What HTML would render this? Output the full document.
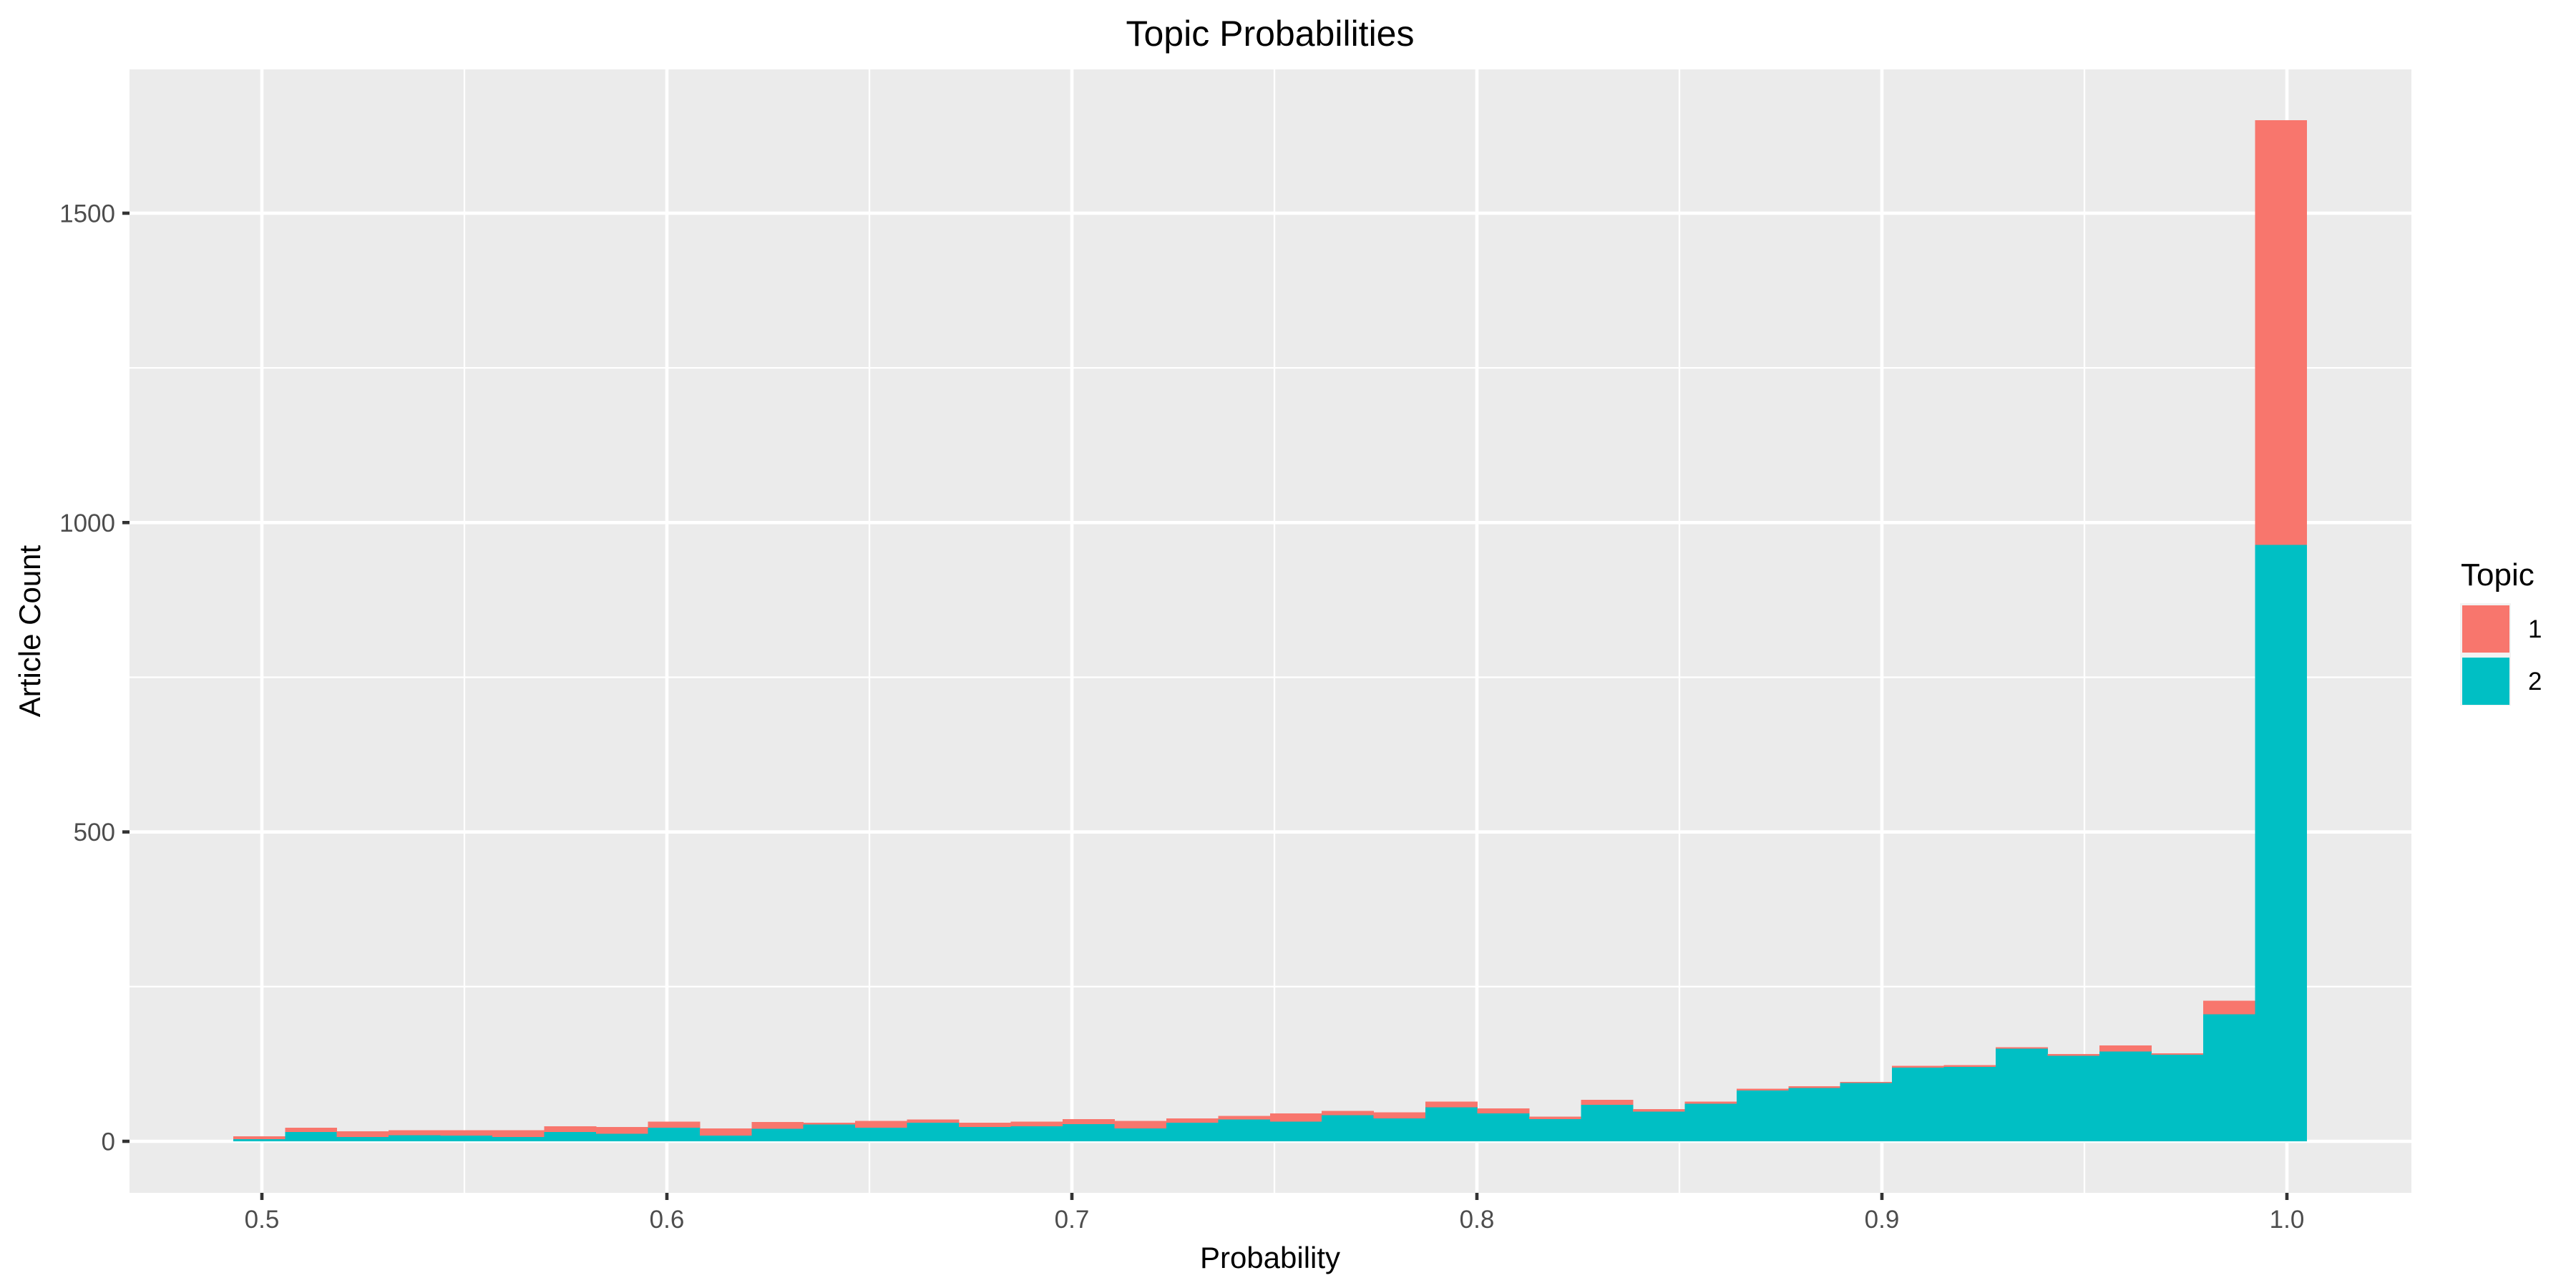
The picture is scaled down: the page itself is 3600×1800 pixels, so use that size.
<!DOCTYPE html>
<html><head><meta charset="utf-8"><style>
html,body{margin:0;padding:0;background:#fff;}
svg{display:block;font-family:"Liberation Sans",Arial,sans-serif;}
rect{shape-rendering:crispEdges;}
</style></head><body>
<svg id="chart" width="3600" height="1800" viewBox="0 0 3600 1800" xmlns="http://www.w3.org/2000/svg"></svg>
<script>
const binStarts = [0.4929,0.5057,0.5185,0.5313,0.5441,0.5569,0.5697,0.5825,0.5953,0.6081,0.6209,0.6337,0.6465,0.6593,0.6721,0.6849,0.6977,0.7105,0.7233,0.7361,0.7489,0.7617,0.7745,0.7873,0.8001,0.8129,0.8257,0.8385,0.8513,0.8641,0.8769,0.8897,0.9025,0.9153,0.9281,0.9409,0.9537,0.9665,0.9793,0.9921];
const binWidth = 0.0128;
const topic2Counts = [3.5,15,7,10,9,7,15,12,22,9,20,27,22,30,23,24,28,21,30,35,32,42,37,55,45,36,59,48,61,82,86,94,119,120,150,138,145,140,205,964];
const totalCounts = [8,22,16,18,18,18,24,23,32,21,31,30,33,35,30,32,36,33,37,41,45,49,47,64,53,40,67,52,64,85,89,96,122,123,152,141,155,142,227,1650];
const topic1Counts = totalCounts.map((t,i)=>t-topic2Counts[i]);
const yTicks = [0,500,1000,1500];
const yMinor = [250,750,1250];
const xTicks = [0.5,0.6,0.7,0.8,0.9,1.0];
const xTickLabels = ["0.5","0.6","0.7","0.8","0.9","1.0"];
const xMinor = [0.55,0.65,0.75,0.85,0.95];
const legendLabels = ["1","2"];

const NS="http://www.w3.org/2000/svg";
const svg=document.getElementById('chart');
const P={l:181,r:3370,t:97,b:1667};
const X=v=>366+(v-0.5)*5660;
const Y=v=>1595-v*0.8647;
function mk(tag,attrs,parent){const e=document.createElementNS(NS,tag);for(const k in attrs)e.setAttribute(k,attrs[k]);(parent||svg).appendChild(e);return e;}

const panel=mk('rect',{x:P.l,y:P.t,width:P.r-P.l,height:P.b-P.t,fill:'#EBEBEB'});



yMinor.forEach(v=>{const l=mk('line',{x1:P.l,x2:P.r,y1:Y(v),y2:Y(v),stroke:'#fff','stroke-width':2.3});

});
xMinor.forEach(v=>{const l=mk('line',{x1:X(v),x2:X(v),y1:P.t,y2:P.b,stroke:'#fff','stroke-width':2.3});

});
yTicks.forEach(v=>{const l=mk('line',{x1:P.l,x2:P.r,y1:Y(v),y2:Y(v),stroke:'#fff','stroke-width':4.6});

});
xTicks.forEach(v=>{const l=mk('line',{x1:X(v),x2:X(v),y1:P.t,y2:P.b,stroke:'#fff','stroke-width':4.6});

});

binStarts.forEach((s,i)=>{
  const x0=X(s),w=X(s+binWidth)-x0;
  const b2=mk('rect',{x:x0,y:Y(topic2Counts[i]),width:w+0.5,height:Y(0)-Y(topic2Counts[i]),fill:'#00BFC4'});
  
  
  const b1=mk('rect',{x:x0,y:Y(totalCounts[i]),width:w+0.5,height:Y(topic2Counts[i])-Y(totalCounts[i]),fill:'#F8766D'});
  
  
});

yTicks.forEach(v=>{
  const t=mk('line',{x1:P.l-10,x2:P.l,y1:Y(v),y2:Y(v),stroke:'#333','stroke-width':4.6});
  
  
  const tx=mk('text',{x:P.l-20,y:Y(v)+12.5,'text-anchor':'end','font-size':35,fill:'#4D4D4D'});
  tx.textContent=v;
  
  
});
xTicks.forEach((v,i)=>{
  const t=mk('line',{x1:X(v),x2:X(v),y1:P.b,y2:P.b+10,stroke:'#333','stroke-width':4.6});
  
  
  const tx=mk('text',{x:X(v),y:1716,'text-anchor':'middle','font-size':35,fill:'#4D4D4D'});
  tx.textContent=xTickLabels[i];
  
  
});

const title=mk('text',{x:1775,y:64,'text-anchor':'middle','font-size':50,fill:'#000'});
title.textContent='Topic Probabilities';


const xt=mk('text',{x:1775,y:1772,'text-anchor':'middle','font-size':42,fill:'#000'});
xt.textContent='Probability';


const yt=mk('text',{x:0,y:0,'text-anchor':'middle','font-size':42,fill:'#000',transform:'translate(56,882) rotate(-90)'});
yt.textContent='Article Count';



const lt=mk('text',{x:3439,y:818,'font-size':44,fill:'#000'});
lt.textContent='Topic';


const lbg=mk('rect',{x:3438,y:843,width:71,height:143,fill:'#F2F2F2'});


const cols=['#F8766D','#00BFC4'];
legendLabels.forEach((lab,i)=>{
  const k=mk('rect',{x:3441,y:846+i*73,width:66,height:66,fill:cols[i]});
  
  
  const tx=mk('text',{x:3533,y:891+i*73,'font-size':35,fill:'#000'});
  tx.textContent=lab;
  
  
});
</script>
</body></html>
